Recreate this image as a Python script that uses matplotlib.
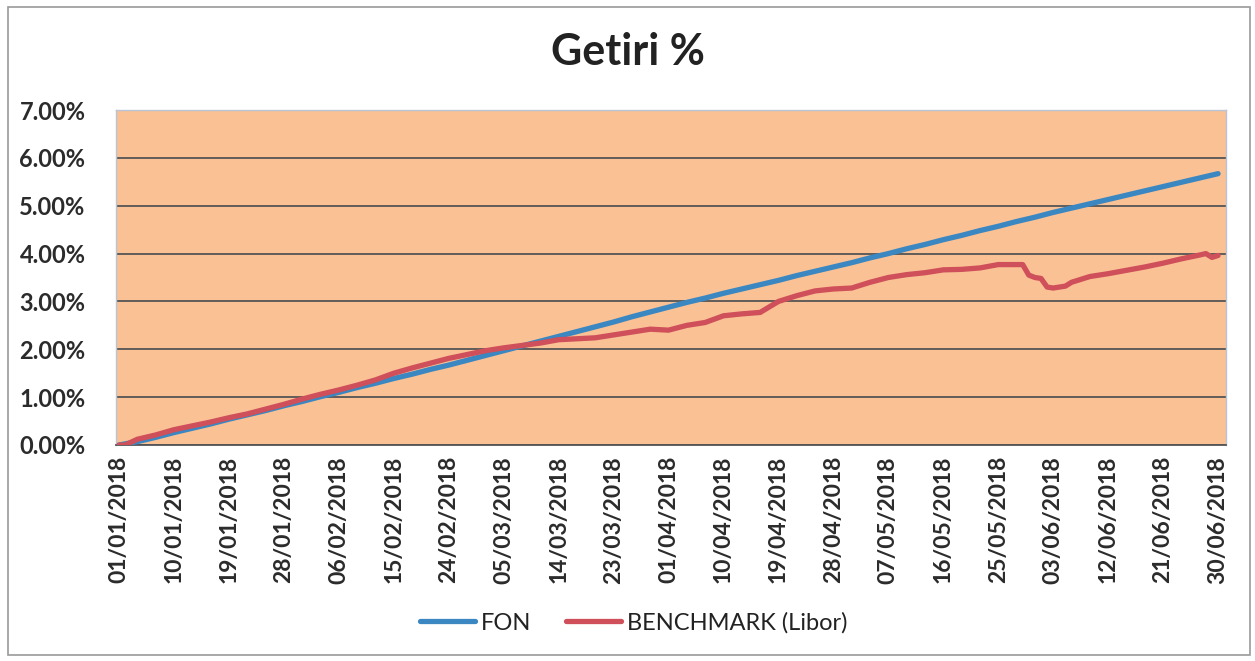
import matplotlib
matplotlib.use("Agg")
import matplotlib.pyplot as plt
import matplotlib.dates as mdates
import pandas as pd
from matplotlib.ticker import FuncFormatter
from matplotlib.patches import Rectangle

# ---- data ----
start = pd.Timestamp("2018-01-01")

fon_days = list(range(0, 181, 3))
fon_values = [0.00, 0.07, 0.16, 0.26, 0.35, 0.44, 0.54, 0.63, 0.72, 0.82,
              0.91, 1.01, 1.10, 1.20, 1.29, 1.39, 1.48, 1.58, 1.67, 1.77,
              1.87, 1.97, 2.07, 2.17, 2.27, 2.37, 2.47, 2.57, 2.68, 2.78,
              2.88, 2.98, 3.07, 3.17, 3.26, 3.35, 3.44, 3.54, 3.63, 3.72,
              3.81, 3.91, 4.00, 4.10, 4.19, 4.29, 4.38, 4.48, 4.57, 4.67,
              4.76, 4.86, 4.95, 5.04, 5.13, 5.22, 5.31, 5.40, 5.49, 5.58,
              5.67]

bench_days = [0, 1, 3, 6, 9, 12, 15, 18, 21, 24, 27, 30, 33, 36, 39, 42, 45,
              48, 51, 54, 57, 60, 63, 66, 69, 72, 75, 78, 81, 84, 87, 90, 93,
              96, 99, 102, 105, 108, 111, 114, 117, 120, 123, 126, 129, 132,
              135, 138, 141, 144, 147, 148, 149, 150, 151, 152, 153, 155, 156,
              159, 162, 165, 168, 171, 174, 177, 178, 179, 180]
bench_values = [0.00, 0.00, 0.12, 0.21, 0.32, 0.40, 0.48, 0.57, 0.65, 0.75,
                0.85, 0.96, 1.06, 1.15, 1.25, 1.36, 1.50, 1.61, 1.71, 1.81,
                1.89, 1.97, 2.03, 2.08, 2.13, 2.20, 2.22, 2.24, 2.30, 2.36,
                2.42, 2.40, 2.50, 2.56, 2.70, 2.74, 2.77, 3.00, 3.12, 3.22,
                3.26, 3.28, 3.40, 3.50, 3.56, 3.60, 3.66, 3.67, 3.70, 3.77,
                3.77, 3.77, 3.55, 3.50, 3.48, 3.30, 3.28, 3.32, 3.40, 3.52,
                3.58, 3.65, 3.72, 3.80, 3.89, 3.97, 4.00, 3.92, 3.96]

tick_days = list(range(0, 181, 9))
y_ticks = [0, 1, 2, 3, 4, 5, 6, 7]

title = "Getiri %"
series_names = ["FON", "BENCHMARK (Libor)"]

# ---- figure ----
FONT = ["Lato", "DejaVu Sans"]
plt.rcParams["font.family"] = FONT

fig = plt.figure(figsize=(12.55, 6.61), dpi=100)
fig.patch.set_facecolor("white")
# outer chart border
fig.patches.append(Rectangle((8 / 1255, 6 / 661), 1242 / 1255, 648 / 661,
                             transform=fig.transFigure, fill=False,
                             edgecolor="#9a9a9a", linewidth=1.2))

ax = fig.add_axes([116 / 1255, 1 - 445 / 661, 1110 / 1255, 335 / 661])
ax.set_facecolor("#F9C194")

fon_dates = [start + pd.Timedelta(days=d) for d in fon_days]
bench_dates = [start + pd.Timedelta(days=d) for d in bench_days]
tick_dates = [start + pd.Timedelta(days=d) for d in tick_days]

ax.plot(fon_dates, fon_values, color="#3A87C2", linewidth=3.8,
        solid_capstyle="round", label=series_names[0], zorder=3)
ax.plot(bench_dates, bench_values, color="#CF4F5A", linewidth=3.8,
        solid_capstyle="round", label=series_names[1], zorder=4)

x0 = mdates.date2num(start)
ax.set_xlim(x0 - 0.5, x0 + 181.3)
ax.set_ylim(0, 7)
ax.set_yticks(y_ticks)
ax.yaxis.set_major_formatter(FuncFormatter(lambda v, p: f"{v:.2f}%"))
ax.set_xticks(tick_dates)
ax.xaxis.set_major_formatter(mdates.DateFormatter("%d/%m/%Y"))
for lab in ax.get_xticklabels():
    lab.set_rotation(90)

ax.tick_params(axis="x", length=0, labelsize=16.5, colors="#2b2b2b", pad=8)
ax.tick_params(axis="y", length=0, labelsize=17, colors="#2b2b2b", pad=22)
for lab in ax.get_xticklabels() + ax.get_yticklabels():
    lab.set_fontweight("bold")

ax.grid(axis="y", color="#555555", linewidth=1.3)
ax.set_axisbelow(True)
for side in ["top", "left", "right"]:
    ax.spines[side].set_color("#b9c4d6")
    ax.spines[side].set_linewidth(1.0)
ax.spines["bottom"].set_color("#555555")
ax.spines["bottom"].set_linewidth(1.3)

fig.text(0.5, 1 - 52 / 661, title, ha="center", va="center",
         fontsize=31, fontweight="bold", color="#222222")

leg = fig.legend(loc="center", bbox_to_anchor=(0.505, 1 - 623 / 661), ncol=2,
                 frameon=False, fontsize=17, handlelength=2.3,
                 columnspacing=1.5, handletextpad=0.25)
for t in leg.get_texts():
    t.set_color("#222222")

fig.savefig("out.png", dpi=100)
